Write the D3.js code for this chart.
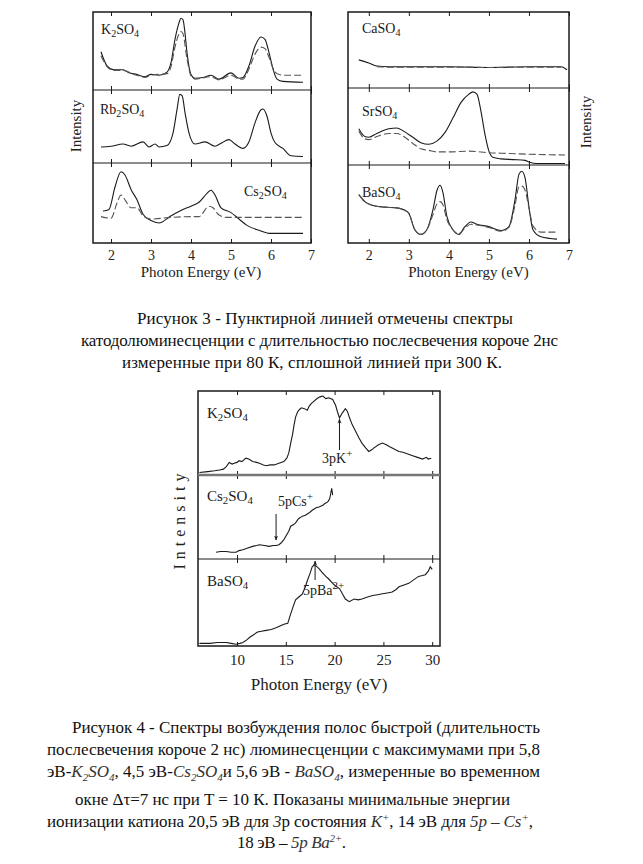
<!DOCTYPE html>
<html><head><meta charset="utf-8">
<script src="https://cdn.jsdelivr.net/npm/d3@7"></script>
<style>body{margin:0;background:#fff} svg{display:block}</style>
</head><body>
<svg id="c" width="643" height="864"></svg>
<script>
// ---------- DATA ----------
const ticksFig3 = [2, 3, 4, 5, 6, 7];
const ticksFig4 = [10, 15, 20, 25, 30];

// Fig 3 (relative intensity within each sub-panel, 0..1)
const k2so4_300K = [[1.75,0.49],[1.9,0.31],[2.07,0.26],[2.3,0.26],[2.45,0.22],[2.64,0.20],[2.85,0.17],[3.0,0.20],[3.2,0.19],[3.4,0.23],[3.5,0.35],[3.6,0.65],[3.7,0.86],[3.75,0.92],[3.8,0.90],[3.85,0.73],[3.9,0.48],[4.0,0.20],[4.1,0.15],[4.3,0.16],[4.5,0.19],[4.7,0.14],[5.0,0.22],[5.2,0.15],[5.3,0.16],[5.45,0.31],[5.6,0.56],[5.75,0.68],[5.85,0.65],[5.95,0.48],[6.05,0.27],[6.15,0.14],[6.3,0.11],[6.8,0.10]];
const k2so4_80K = [[1.75,0.44],[1.9,0.30],[2.07,0.25],[2.3,0.25],[2.64,0.19],[2.85,0.16],[3.0,0.19],[3.4,0.21],[3.5,0.30],[3.6,0.55],[3.7,0.72],[3.75,0.75],[3.8,0.72],[3.9,0.40],[4.0,0.18],[4.1,0.14],[4.5,0.17],[4.7,0.13],[5.0,0.19],[5.2,0.14],[5.3,0.14],[5.45,0.27],[5.6,0.46],[5.75,0.55],[5.85,0.53],[5.95,0.42],[6.05,0.28],[6.15,0.21],[6.3,0.19],[6.8,0.19]];
const rb2so4_300K = [[1.75,0.22],[2.0,0.23],[2.3,0.26],[2.5,0.23],[2.8,0.29],[2.95,0.22],[3.1,0.26],[3.2,0.22],[3.4,0.24],[3.55,0.41],[3.65,0.73],[3.72,0.94],[3.78,0.92],[3.85,0.69],[3.95,0.41],[4.1,0.26],[4.35,0.29],[4.6,0.23],[4.75,0.27],[4.95,0.32],[5.1,0.26],[5.3,0.20],[5.45,0.29],[5.6,0.55],[5.75,0.73],[5.8,0.74],[5.9,0.64],[6.0,0.41],[6.1,0.28],[6.3,0.20],[6.5,0.10],[6.8,0.09]];
const cs2so4_300K = [[1.8,0.40],[1.95,0.42],[2.1,0.70],[2.25,0.89],[2.35,0.85],[2.5,0.67],[2.65,0.54],[2.8,0.36],[3.0,0.28],[3.2,0.25],[3.5,0.34],[3.8,0.42],[4.0,0.46],[4.2,0.51],[4.4,0.62],[4.5,0.66],[4.6,0.60],[4.75,0.44],[5.0,0.38],[5.2,0.30],[5.4,0.22],[5.7,0.16],[6.0,0.12],[6.8,0.12]];
const cs2so4_80K = [[1.75,0.33],[2.0,0.31],[2.15,0.50],[2.25,0.60],[2.35,0.54],[2.5,0.44],[2.65,0.44],[2.8,0.34],[3.0,0.30],[3.5,0.32],[4.0,0.33],[4.2,0.33],[4.45,0.46],[4.55,0.44],[4.7,0.35],[4.9,0.32],[6.8,0.32]];
const caso4_300K = [[1.75,0.37],[2.0,0.33],[2.2,0.29],[2.5,0.28],[3.0,0.28],[4.0,0.28],[5.0,0.27],[6.0,0.28],[6.5,0.28],[6.8,0.28],[6.95,0.24]];
const caso4_80K = [[2.2,0.28],[2.5,0.275],[3.0,0.275],[4.0,0.275],[5.0,0.27],[6.0,0.275],[6.8,0.275]];
const srso4_300K = [[1.75,0.47],[1.9,0.37],[2.0,0.36],[2.2,0.41],[2.5,0.47],[2.7,0.48],[2.9,0.43],[3.1,0.36],[3.3,0.29],[3.5,0.27],[3.7,0.31],[3.9,0.42],[4.1,0.61],[4.3,0.81],[4.5,0.92],[4.6,0.95],[4.7,0.92],[4.8,0.70],[4.9,0.40],[5.0,0.18],[5.1,0.10],[5.3,0.08],[5.6,0.07],[5.9,0.06],[6.0,0.04],[6.2,0.02],[6.9,0.02]];
const srso4_80K = [[1.75,0.44],[1.9,0.34],[2.0,0.33],[2.2,0.37],[2.5,0.41],[2.7,0.41],[2.9,0.36],[3.1,0.28],[3.3,0.21],[3.5,0.19],[3.7,0.17],[4.0,0.17],[4.5,0.18],[5.0,0.16],[5.5,0.15],[6.0,0.14],[6.9,0.13]];
const baso4_300K = [[1.75,0.62],[1.9,0.53],[2.1,0.48],[2.4,0.46],[2.7,0.45],[2.9,0.42],[3.0,0.38],[3.15,0.17],[3.3,0.11],[3.45,0.17],[3.6,0.42],[3.7,0.67],[3.78,0.74],[3.85,0.65],[3.95,0.34],[4.1,0.17],[4.25,0.11],[4.4,0.21],[4.55,0.27],[4.7,0.24],[5.0,0.21],[5.3,0.16],[5.5,0.21],[5.65,0.55],[5.75,0.88],[5.82,0.92],[5.9,0.84],[6.0,0.46],[6.1,0.17],[6.3,0.08],[6.7,0.05]];
const baso4_80K = [[1.75,0.62],[1.9,0.53],[2.1,0.48],[2.4,0.46],[2.7,0.45],[2.9,0.42],[3.0,0.38],[3.15,0.17],[3.3,0.11],[3.45,0.17],[3.6,0.36],[3.7,0.50],[3.78,0.53],[3.85,0.49],[3.95,0.30],[4.1,0.17],[4.25,0.12],[4.4,0.19],[4.55,0.24],[4.7,0.23],[5.0,0.20],[5.3,0.15],[5.5,0.20],[5.65,0.48],[5.75,0.72],[5.82,0.73],[5.9,0.68],[6.0,0.45],[6.1,0.22],[6.3,0.14],[6.7,0.14]];

// Fig 4 excitation spectra
const k2so4_exc = [[6.15,0.03],[7.0,0.04],[7.7,0.05],[8.2,0.06],[8.6,0.07],[8.9,0.10],[9.2,0.15],[9.5,0.13],[9.7,0.14],[10.0,0.15],[10.2,0.17],[10.5,0.16],[10.9,0.20],[11.2,0.19],[11.6,0.16],[12.0,0.15],[12.3,0.14],[12.7,0.12],[13.0,0.11],[13.4,0.12],[13.8,0.12],[14.3,0.14],[14.8,0.16],[15.1,0.20],[15.3,0.26],[15.5,0.38],[15.7,0.49],[15.85,0.60],[16.0,0.69],[16.2,0.75],[16.4,0.78],[16.6,0.80],[16.9,0.79],[17.2,0.77],[17.4,0.82],[17.6,0.85],[17.9,0.88],[18.2,0.91],[18.5,0.93],[18.8,0.94],[19.1,0.91],[19.4,0.92],[19.8,0.90],[20.1,0.83],[20.3,0.75],[20.5,0.68],[20.8,0.74],[21.1,0.79],[21.3,0.76],[21.5,0.69],[21.8,0.60],[22.2,0.51],[22.5,0.44],[22.8,0.38],[23.2,0.32],[23.5,0.28],[23.8,0.30],[24.0,0.32],[24.5,0.36],[24.9,0.38],[25.3,0.36],[25.6,0.34],[26.1,0.31],[26.6,0.28],[27.0,0.27],[27.5,0.25],[28.0,0.23],[28.5,0.21],[29.0,0.19],[29.4,0.21],[29.6,0.19],[29.9,0.20]];
const cs2so4_exc = [[7.85,0.08],[8.3,0.09],[8.9,0.09],[9.4,0.08],[9.9,0.08],[10.2,0.10],[10.6,0.11],[11.1,0.13],[11.6,0.15],[12.0,0.16],[12.3,0.17],[12.8,0.16],[13.3,0.15],[13.7,0.16],[14.0,0.16],[14.3,0.17],[14.5,0.19],[14.8,0.23],[15.0,0.27],[15.3,0.33],[15.5,0.39],[15.8,0.41],[16.0,0.43],[16.3,0.48],[16.7,0.51],[17.0,0.52],[17.4,0.55],[17.7,0.58],[18.1,0.61],[18.4,0.62],[18.8,0.64],[19.0,0.66],[19.3,0.68],[19.5,0.72],[19.6,0.78],[19.7,0.84],[19.8,0.76]];
const baso4_exc = [[6.15,0.03],[6.7,0.03],[7.2,0.03],[8.0,0.04],[8.9,0.04],[9.4,0.03],[9.9,0.02],[10.3,0.03],[10.6,0.04],[11.0,0.07],[11.3,0.10],[11.7,0.13],[12.1,0.16],[12.5,0.17],[13.0,0.18],[13.5,0.19],[14.0,0.21],[14.4,0.23],[14.8,0.25],[15.2,0.26],[15.5,0.37],[15.8,0.47],[16.0,0.53],[16.3,0.56],[16.7,0.60],[17.0,0.68],[17.2,0.75],[17.5,0.84],[17.7,0.91],[17.9,0.93],[18.1,0.92],[18.4,0.89],[18.7,0.85],[19.1,0.80],[19.4,0.77],[19.8,0.72],[20.1,0.69],[20.5,0.66],[20.8,0.60],[21.1,0.54],[21.5,0.51],[22.0,0.54],[22.4,0.53],[22.8,0.54],[23.3,0.56],[23.9,0.58],[24.4,0.59],[24.9,0.60],[25.4,0.61],[25.9,0.62],[26.3,0.65],[26.6,0.68],[27.1,0.70],[27.6,0.72],[28.1,0.76],[28.6,0.80],[29.0,0.81],[29.3,0.82],[29.6,0.86],[29.8,0.91],[30.0,0.88]];

// ---------- DRAWING ----------
const svg = d3.select("#c");
const serif = "'Liberation Serif','Times New Roman',serif";
const ink = "#1a1a1a";

function label(g, x, y, parts, size) {
  const t = g.append("text").attr("x", x).attr("y", y)
    .attr("font-family", serif).attr("font-size", size).attr("fill", ink);
  let shift = 0;
  parts.forEach(([s, k]) => {
    const ts = t.append("tspan").text(s);
    if (k === "s") { ts.attr("font-size", size * 0.72).attr("dy", 3 - shift); shift = 3; }
    else { if (shift) ts.attr("dy", -shift); shift = 0; }
  });
  return t;
}

function drawFigure(cfg) {
  const g = svg.append("g");
  const x = d3.scaleLinear().domain(cfg.domain).range([cfg.left, cfg.right]);
  cfg.panels.forEach(p => {
    const y = d3.scaleLinear().domain([0, 1]).range([p.bottom, p.top]);
    const line = d3.line().x(d => x(d[0])).y(d => y(d[1])).curve(cfg.curve);
    p.series.forEach(s => {
      g.append("path").attr("d", line(s.data)).attr("fill", "none")
        .attr("stroke", s.dashed ? "#555" : ink)
        .attr("stroke-width", cfg.sw)
        .attr("stroke-dasharray", s.dashed ? "7,3" : null);
    });
    const axT = d3.axisBottom(x).tickValues(cfg.ticks).tickSize(4).tickFormat("");
    const axB = d3.axisTop(x).tickValues(cfg.ticks).tickSize(4).tickFormat("");
    const gt = g.append("g").attr("transform", `translate(0,${p.top})`).call(axT);
    const gb = g.append("g").attr("transform", `translate(0,${p.bottom})`).call(axB);
    [gt, gb].forEach(a => { a.select(".domain").remove(); a.selectAll("line").attr("stroke", ink); });
    label(g, p.lx, p.ly, p.name, cfg.labelSize);
  });
  const top = cfg.panels[0].top, bottom = cfg.panels[cfg.panels.length - 1].bottom;
  g.append("rect").attr("x", cfg.left).attr("y", top).attr("width", cfg.right - cfg.left)
    .attr("height", bottom - top).attr("fill", "none").attr("stroke", ink).attr("stroke-width", 1.5);
  cfg.panels.slice(1).forEach((p, i) => {
    g.append("line").attr("x1", cfg.left).attr("x2", cfg.right).attr("y1", p.top).attr("y2", p.top)
      .attr("stroke", cfg.dividerColor ? cfg.dividerColor[i] : ink)
      .attr("stroke-width", cfg.dividerWidth ? cfg.dividerWidth[i] : 1.2);
  });
  const ax = d3.axisBottom(x).tickValues(cfg.ticks).tickSize(0).tickPadding(cfg.tickPad).tickFormat(d3.format("d"));
  const ga = g.append("g").attr("transform", `translate(0,${bottom})`).call(ax);
  ga.select(".domain").remove();
  ga.attr("font-family", serif);
  ga.selectAll("text").attr("font-family", serif).attr("font-size", cfg.tickSize).attr("fill", "#222");
  g.append("text").attr("x", (cfg.left + cfg.right) / 2 + cfg.titleDx).attr("y", cfg.titleY)
    .attr("text-anchor", "middle").attr("font-family", serif).attr("font-size", cfg.titleSize)
    .attr("fill", "#222").text("Photon Energy (eV)");
  g.append("text").attr("transform", `translate(${cfg.yTitleX},${cfg.yTitleY}) rotate(-90)`)
    .attr("text-anchor", "middle").attr("font-family", serif).attr("font-size", cfg.yTitleSize)
    .attr("letter-spacing", cfg.yTitleSpacing || 0)
    .attr("fill", "#222").text("Intensity");
  return x;
}

// Figure 3 left
drawFigure({
  domain: [1.55, 7.0], left: 93, right: 311, ticks: ticksFig3, curve: d3.curveMonotoneX, sw: 1.1,
  labelSize: 14, tickPad: 7, tickSize: 14, titleY: 277, titleSize: 15, titleDx: -1,
  yTitleX: 81, yTitleY: 126, yTitleSize: 15,
  panels: [
    { top: 12, bottom: 90, name: [["K"], ["2", "s"], ["SO"], ["4", "s"]], lx: 101, ly: 34,
      series: [{ data: k2so4_300K }, { data: k2so4_80K, dashed: true }] },
    { top: 90, bottom: 163, name: [["Rb"], ["2", "s"], ["SO"], ["4", "s"]], lx: 100, ly: 114,
      series: [{ data: rb2so4_300K }] },
    { top: 163, bottom: 243, name: [["Cs"], ["2", "s"], ["SO"], ["4", "s"]], lx: 244, ly: 196,
      series: [{ data: cs2so4_300K }, { data: cs2so4_80K, dashed: true }] }
  ]
});

// Figure 3 right
drawFigure({
  domain: [1.48, 7.0], left: 348, right: 569, ticks: ticksFig3, curve: d3.curveMonotoneX, sw: 1.1,
  labelSize: 14, tickPad: 7, tickSize: 14, titleY: 277, titleSize: 15, titleDx: 10,
  yTitleX: 591, yTitleY: 122, yTitleSize: 15,
  panels: [
    { top: 12, bottom: 88, name: [["CaSO"], ["4", "s"]], lx: 362, ly: 33,
      series: [{ data: caso4_300K }, { data: caso4_80K, dashed: true }] },
    { top: 88, bottom: 165, name: [["SrSO"], ["4", "s"]], lx: 362, ly: 116,
      series: [{ data: srso4_300K }, { data: srso4_80K, dashed: true }] },
    { top: 165, bottom: 243, name: [["BaSO"], ["4", "s"]], lx: 362, ly: 197,
      series: [{ data: baso4_300K }, { data: baso4_80K, dashed: true }] }
  ]
});

// Figure 4
const x4 = drawFigure({
  domain: [6.0, 30.8], left: 198, right: 440, ticks: ticksFig4, curve: d3.curveLinear, sw: 1.1,
  labelSize: 15, tickPad: 8, tickSize: 15, titleY: 690, titleSize: 17, titleDx: 0,
  yTitleX: 185, yTitleY: 519, yTitleSize: 16, yTitleSpacing: 5,
  dividerColor: ["#777", ink], dividerWidth: [2.5, 1.2],
  panels: [
    { top: 391, bottom: 475, name: [["K"], ["2", "s"], ["SO"], ["4", "s"]], lx: 207, ly: 418,
      series: [{ data: k2so4_exc }] },
    { top: 475, bottom: 559, name: [["Cs"], ["2", "s"], ["SO"], ["4", "s"]], lx: 207, ly: 501,
      series: [{ data: cs2so4_exc }] },
    { top: 559, bottom: 646, name: [["BaSO"], ["4", "s"]], lx: 207, ly: 586,
      series: [{ data: baso4_exc }] }
  ]
});

// annotations with arrows
const ann = svg.append("g");
ann.append("defs").append("marker").attr("id", "ah").attr("viewBox", "0 0 10 10")
  .attr("refX", 9).attr("refY", 5).attr("markerWidth", 5).attr("markerHeight", 7).attr("orient", "auto")
  .append("path").attr("d", "M0,1 L10,5 L0,9 L3,5 Z").attr("fill", ink);
function arrow(xv, y1, y2) {
  ann.append("line").attr("x1", x4(xv)).attr("x2", x4(xv)).attr("y1", y1).attr("y2", y2)
    .attr("stroke", ink).attr("stroke-width", 1).attr("marker-end", "url(#ah)");
}
function sup(x, y, base, s) {
  const t = ann.append("text").attr("x", x).attr("y", y).attr("font-family", serif)
    .attr("font-size", 14).attr("fill", ink);
  t.append("tspan").text(base);
  t.append("tspan").attr("dy", -6).attr("font-size", 11).text(s);
}
arrow(20.5, 450, 419);
sup(322, 463, "3pK", "+");
arrow(14.0, 514, 540);
sup(278, 506, "5pCs", "+");
arrow(18.0, 580, 561);
sup(303, 595, "5pBa", "2+");

// ---------- CAPTIONS ----------
const cap = svg.append("g").attr("font-family", serif).attr("font-size", 17).attr("fill", "#111");
function richLine(x, y, parts, len) {
  const t = cap.append("text").attr("x", x).attr("y", y);
  if (len) t.attr("textLength", len).attr("lengthAdjust", "spacing");
  let shift = 0;
  parts.forEach(([s, k]) => {
    const ts = t.append("tspan").text(s);
    let target = 0;
    if (k === "i") ts.attr("font-style", "italic").attr("fill", "#333");
    if (k === "s") { ts.attr("font-style", "italic").attr("fill", "#333").attr("font-size", 11); target = 4; }
    if (k === "p") { ts.attr("font-style", "italic").attr("fill", "#333").attr("font-size", 11); target = -6; }
    if (target !== shift) ts.attr("dy", target - shift);
    shift = target;
  });
}
richLine(137, 324, [["Рисунок 3 - Пунктирной линией отмечены спектры"]], 376);
richLine(81, 346, [["катодолюминесценции с длительностью послесвечения короче 2нс"]], 477);
richLine(122, 368, [["измеренные при 80 К, сплошной линией при 300 К."]], 380);

richLine(72, 733, [["Рисунок 4 - Спектры возбуждения полос быстрой (длительность"]], 468);
richLine(47, 755, [["послесвечения короче 2 нс) люминесценции с максимумами при 5,8"]], 493);
richLine(47, 777, [["эВ-"], ["K", "i"], ["2", "s"], ["SO", "i"], ["4", "s"], [", 4,5 эВ-"], ["Cs", "i"], ["2", "s"], ["SO", "i"], ["4", "s"], ["и 5,6 эВ - "], ["BaSO", "i"], ["4", "s"], [", измеренные во временном"]], 493);
richLine(75, 805, [["окне Δτ=7 нс  при T = 10 К. Показаны минимальные энергии"]], 435);
richLine(47, 827, [["ионизации катиона 20,5 эВ для "], ["3", "i"], ["р состояния "], ["K", "i"], ["+", "p"], [", 14 эВ для "], ["5p – Cs", "i"], ["+", "p"], [","]], 486);
richLine(237, 848, [["18 эВ – "], ["5p Ba", "i"], ["2+", "p"], ["."]], 109);
</script>
</body></html>
